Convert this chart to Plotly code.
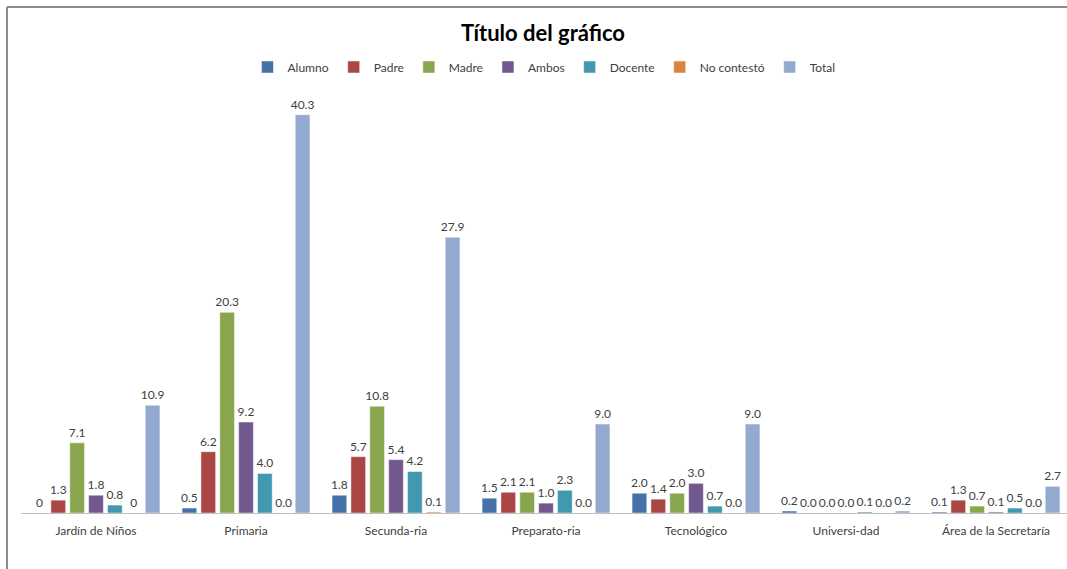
import plotly.graph_objects as go

categories = ["Jardín de Niños", "Primaria", "Secunda-ria", "Preparato-ria",
              "Tecnológico", "Universi-dad", "Área de la Secretaría"]

alumno = [0, 0.5, 1.8, 1.5, 2.0, 0.2, 0.1]
padre = [1.3, 6.2, 5.7, 2.1, 1.4, 0.0, 1.3]
madre = [7.1, 20.3, 10.8, 2.1, 2.0, 0.0, 0.7]
ambos = [1.8, 9.2, 5.4, 1.0, 3.0, 0.0, 0.1]
docente = [0.8, 4.0, 4.2, 2.3, 0.7, 0.1, 0.5]
no_contesto = [0, 0.0, 0.1, 0.0, 0.0, 0.0, 0.0]
total = [10.9, 40.3, 27.9, 9.0, 9.0, 0.2, 2.7]

# The first category shows integer "0" labels for zero values
label_overrides = {("Alumno", 0): "0", ("No contestó", 0): "0"}

series = [
    ("Alumno", alumno, "#4572A7"),
    ("Padre", padre, "#AA4643"),
    ("Madre", madre, "#89A54E"),
    ("Ambos", ambos, "#71588F"),
    ("Docente", docente, "#4198AF"),
    ("No contestó", no_contesto, "#DB843D"),
    ("Total", total, "#93A9CF"),
]

W, H = 1067, 569
L, R, T, B = 21, 0, 88, 56
pw, ph = W - L - R, H - T - B

fig = go.Figure()
for name, vals, color in series:
    text = [label_overrides.get((name, i), f"{v:.1f}") for i, v in enumerate(vals)]
    fig.add_trace(go.Bar(
        name=name, x=categories, y=vals, text=text,
        textposition="outside", constraintext="none", cliponaxis=False,
        textfont=dict(family="Lato", size=12, color="#404040"),
        marker=dict(color=color, line=dict(color="rgba(255,255,255,0.6)", width=0.8)),
        hoverinfo="x+y+name",
    ))

def px_x(p):
    return (p - L) / pw

def px_y(p):
    return (H - B - p) / ph

fig.update_layout(
    width=W, height=H,
    margin=dict(l=L, r=R, t=T, b=B),
    paper_bgcolor="white", plot_bgcolor="white",
    barmode="group", bargap=0.12, bargroupgap=0.22,
    font=dict(family="Lato", color="#404040", size=12),
    title=dict(text="<b>Título del gráfico</b>", x=543 / W, xanchor="center",
               y=1 - 33 / H, yanchor="middle",
               font=dict(family="Lato", size=22, color="#000000")),
    legend=dict(orientation="h", x=0.5, xanchor="center", y=px_y(67), yanchor="middle",
                font=dict(family="Lato", size=12, color="#404040"),
                itemwidth=30, bgcolor="rgba(0,0,0,0)"),
    xaxis=dict(range=[-0.5, 6.5 - 4 / 150], showline=True, linecolor="#BFBFBF", linewidth=1,
               ticks="", showgrid=False, ticklabelstandoff=7,
               tickfont=dict(family="Lato", size=12, color="#404040"),
               fixedrange=True),
    yaxis=dict(range=[0, 43], visible=False, showgrid=False, zeroline=False, fixedrange=True),
    shapes=[
        dict(type="line", xref="paper", yref="paper", x0=px_x(7), x1=px_x(W + 10), y0=px_y(7), y1=px_y(7),
             line=dict(color="#8C8C8C", width=2)),
        dict(type="line", xref="paper", yref="paper", x0=px_x(7), x1=px_x(7), y0=px_y(7), y1=px_y(H + 10),
             line=dict(color="#8C8C8C", width=2)),
    ],
)

fig.write_html(
    "out.html",
    config={"displayModeBar": False},
    post_script="document.body.style.margin='0';document.body.style.overflow='hidden';",
)
